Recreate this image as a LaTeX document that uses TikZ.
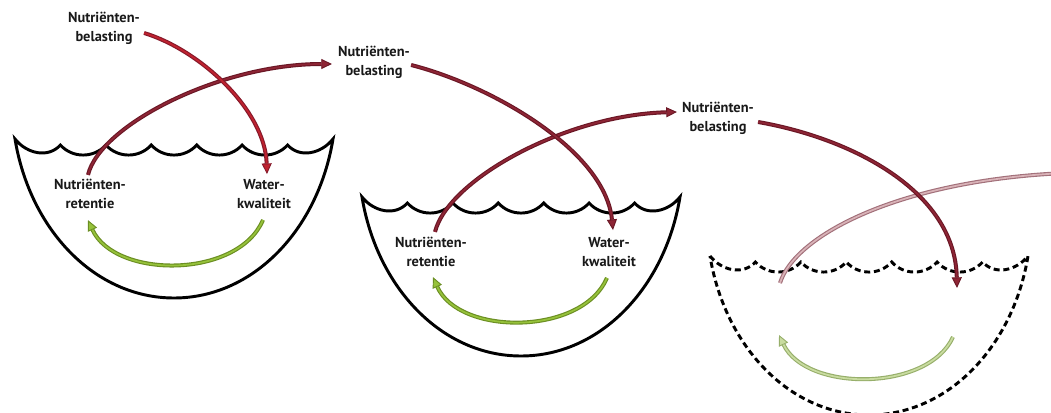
\documentclass[tikz,border=0pt]{standalone}
\usepackage{fontspec}
\newfontfamily\lblfont{PT Sans}
\usetikzlibrary{arrows.meta,calc}
\definecolor{redA}{HTML}{C0222F}
\definecolor{redAo}{HTML}{86192A}
\definecolor{redB}{HTML}{8E2535}
\definecolor{redBo}{HTML}{6A1725}
\definecolor{pinkF}{HTML}{D9B3B8}
\definecolor{pinkO}{HTML}{A2707A}
\definecolor{grnF}{HTML}{96C23A}
\definecolor{grnO}{HTML}{6B8E23}
\definecolor{pgrnF}{HTML}{C9DCA0}
\definecolor{pgrnO}{HTML}{97AF6B}
\tikzset{
  x=0.75pt, y=-0.75pt,
  lbl/.style={font=\lblfont\bfseries\fontsize{10.8}{14.3}\selectfont, align=center, inner sep=0pt, text=black!90},
  flow/.style 2 args={draw=#1, line width=3pt, line cap=butt,
     -{Triangle[length=8pt,width=7.5pt,line width=0.7pt,fill=#2]},
     postaction={draw=#2, line width=1.3pt, -, shorten >=8pt}},
  flowplain/.style 2 args={draw=#1, line width=3pt,
     postaction={draw=#2, line width=1.3pt}},
  lakeline/.style={draw=black, line width=2.2pt, line join=miter},
  dashlake/.style={dash pattern=on 4.5pt off 2.8pt},
  pics/lake/.style={code={
    \draw[lakeline,#1] (15,139)
      .. controls +(12,15) and +(-12,13.4) .. (60.4,145)
      .. controls +(12,13.4) and +(-12,13.4) .. (105.9,145)
      .. controls +(12,13.4) and +(-12,13.4) .. (151.3,145)
      .. controls +(12,13.4) and +(-12,13.4) .. (196.7,145)
      .. controls +(12,13.4) and +(-12,13.4) .. (242.1,145)
      .. controls +(12,13.4) and +(-12,13.4) .. (287.6,145)
      .. controls +(12,13.4) and +(-12,15) .. (333,139)
      .. controls (318,230) and (253,298) .. (174,298)
      .. controls (95,298) and (30,230) .. (15,139) -- cycle;
  }}
}
\begin{document}
\begin{tikzpicture}
\useasboundingbox (0,0) rectangle (1051,413);
\clip (0,0) rectangle (1051,413);
% lakes
\pic at (0,0) {lake=solid};
\pic at (347,58) {lake=solid};
\pic at (695,117) {lake=dashlake};
% labels
\node[lbl] (l1) at (104,28) {Nutriënten-\\belasting};
\node[lbl] (l2) at (374,62) {Nutriënten-\\belasting};
\node[lbl] (l3) at (718,118) {Nutriënten-\\belasting};
\node[lbl] (nr1) at (90,194) {Nutriënten-\\retentie};
\node[lbl] (wq1) at (264,194) {Water-\\kwaliteit};
\node[lbl] (nr2) at (431,252) {Nutriënten-\\retentie};
\node[lbl] (wq2) at (609,252) {Water-\\kwaliteit};
\coordinate (wq3) at (957,288);
\coordinate (nr3) at (780,283);
\coordinate (g3s) at (953,337);
\coordinate (g3e) at (779,335);
\coordinate (out3) at (1066,173);
% green feedback arrows
\draw[flow={grnO}{grnF}] ($(wq1.south)+(-1,11)$) .. controls (238,279) and (115,279) .. ($(nr1.south)+(-2,11)$);
\draw[flow={grnO}{grnF}] ($(wq2.south)+(-2,11)$) .. controls (582,336) and (459,336) .. ($(nr2.south)+(2,10)$);
\draw[flow={pgrnO}{pgrnF}] (g3s) .. controls (928,392) and (806,392) .. (g3e);
% outgoing arrows
\draw[flow={redBo}{redB}] ($(nr1.north)+(-2,-4)$) .. controls (100,125) and (220,64) .. ($(l2.west)+(-6,2)$);
\draw[flow={redBo}{redB}] ($(nr2.north)+(4,-5)$) .. controls (448,180) and (565,115) .. ($(l3.west)+(-5,-6)$);
\draw[flowplain={pinkO}{pinkF}] (nr3) .. controls (795,235) and (900,180) .. (out3);
% incoming arrows
\draw[flow={redAo}{redA}] ($(l1.east)+(4,5)$) .. controls (200,50) and (265,110) .. ($(wq1.north)+(3,-5)$);
\draw[flow={redBo}{redB}] ($(l2.east)+(1,3)$) .. controls (490,85) and (605,150) .. ($(wq2.north)+(4,-7)$);
\draw[flow={redBo}{redB}] ($(l3.east)+(4,4)$) .. controls (850,138) and (955,190) .. (wq3);
\end{tikzpicture}
\end{document}
